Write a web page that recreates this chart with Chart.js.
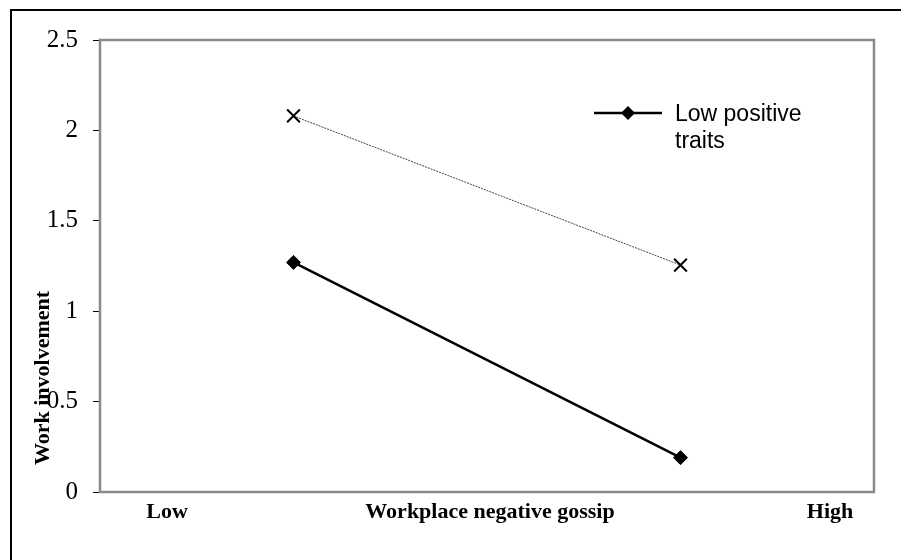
<!DOCTYPE html>
<html>
<head>
<meta charset="utf-8">
<script src="https://cdn.jsdelivr.net/npm/chart.js@4"></script>
<style>
  html, body { margin: 0; padding: 0; background: #fff; }
  #wrap { width: 901px; height: 560px; position: relative; }
</style>
</head>
<body>
<div id="wrap"><canvas id="chart" width="901" height="560"></canvas></div>
<script>
const xPositions = [0.25, 0.75];
const lowTraits = [1.27, 0.19];
const highTraits = [2.08, 1.255];
const yTicks = [0, 0.5, 1, 1.5, 2, 2.5];
const xAxisLabels = ['Low', 'Workplace negative gossip', 'High'];
const legendLines = ['Low positive', 'traits'];

function toPoints(values) {
    return values.map(function (v, i) { return { x: xPositions[i], y: v }; });
}

const decorations = {
    id: 'decorations',
    beforeDraw: function (chart) {
        const ctx = chart.ctx;
        ctx.save();
        ctx.fillStyle = '#fff';
        ctx.fillRect(0, 0, chart.width, chart.height);
        // outer frame (only left and top visible)
        ctx.strokeStyle = '#000';
        ctx.lineWidth = 2;
        ctx.beginPath();
        ctx.moveTo(11, 560);
        ctx.lineTo(11, 10);
        ctx.lineTo(901, 10);
        ctx.stroke();
        ctx.restore();
    },
    afterDraw: function (chart) {
        const ctx = chart.ctx;
        const a = chart.chartArea;
        ctx.save();
        // plot frame
        ctx.strokeStyle = '#8a8a8a';
        ctx.lineWidth = 2.5;
        ctx.strokeRect(a.left, a.top, a.right - a.left, a.bottom - a.top);

        // x labels
        ctx.fillStyle = '#000';
        ctx.font = 'bold 22px "Liberation Serif", "Times New Roman", serif';
        ctx.textAlign = 'center';
        ctx.textBaseline = 'middle';
        const xs = [167, 490, 830];
        xAxisLabels.forEach(function (t, i) { ctx.fillText(t, xs[i], 512); });

        // y title
        ctx.save();
        ctx.translate(43, 378);
        ctx.rotate(-Math.PI / 2);
        ctx.fillText('Work involvement', 0, 0);
        ctx.restore();

        // legend
        ctx.strokeStyle = '#000';
        ctx.lineWidth = 2.5;
        ctx.beginPath();
        ctx.moveTo(594, 113);
        ctx.lineTo(662, 113);
        ctx.stroke();
        ctx.beginPath();
        ctx.moveTo(628, 106);
        ctx.lineTo(635, 113);
        ctx.lineTo(628, 120);
        ctx.lineTo(621, 113);
        ctx.closePath();
        ctx.fill();
        ctx.font = '23px "Liberation Sans", Arial, sans-serif';
        ctx.textAlign = 'left';
        legendLines.forEach(function (t, i) { ctx.fillText(t, 675, 115 + i * 27); });
        ctx.restore();
    }
};

new Chart(document.getElementById('chart').getContext('2d'), {
    type: 'scatter',
    data: {
        datasets: [
            {
                label: 'Low positive traits',
                data: toPoints(lowTraits),
                showLine: true,
                borderColor: '#000',
                backgroundColor: '#000',
                borderWidth: 2.5,
                pointStyle: 'rectRot',
                pointRadius: 7,
                pointBorderWidth: 1
            },
            {
                label: 'High positive traits',
                data: toPoints(highTraits),
                showLine: true,
                borderColor: '#444',
                borderWidth: 1,
                borderDash: [2, 1],
                pointStyle: 'crossRot',
                pointRadius: 9,
                pointBorderColor: '#000',
                pointBorderWidth: 2
            }
        ]
    },
    options: {
        responsive: false,
        animation: false,
        layout: { padding: { left: 0, top: 40, right: 27, bottom: 68 } },
        plugins: {
            legend: { display: false },
            tooltip: { enabled: false }
        },
        scales: {
            x: {
                type: 'linear',
                min: 0,
                max: 1,
                display: false
            },
            y: {
                min: 0,
                max: 2.5,
                afterBuildTicks: function (scale) {
                    scale.ticks = yTicks.map(function (v) { return { value: v }; });
                },
                afterFit: function (scale) { scale.width = 100; },
                border: { display: false },
                grid: {
                    drawOnChartArea: false,
                    tickLength: 7,
                    color: '#000',
                    lineWidth: 1
                },
                ticks: {
                    color: '#000',
                    padding: 15,
                    font: { family: '"Liberation Serif", "Times New Roman", serif', size: 25 },
                    callback: function (v) { return String(v); }
                }
            }
        }
    },
    plugins: [decorations]
});
</script>
</body>
</html>
